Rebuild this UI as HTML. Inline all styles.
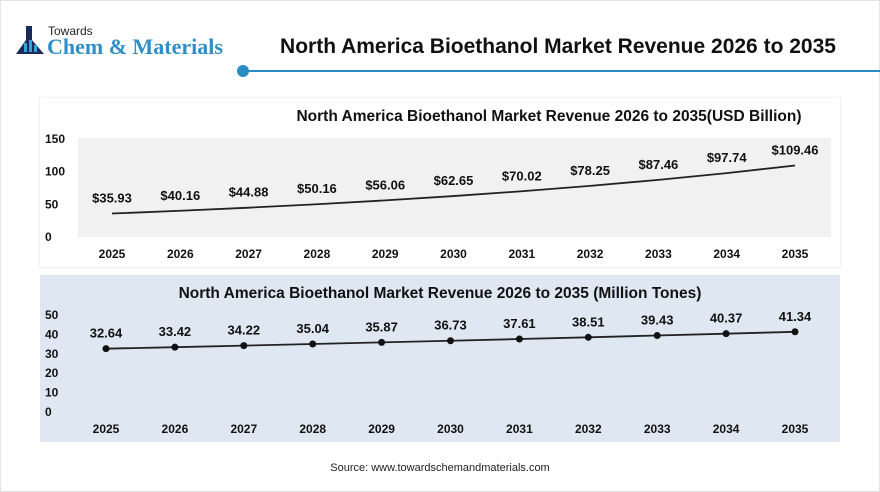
<!DOCTYPE html>
<html><head><meta charset="utf-8"><style>
body{margin:0;width:880px;height:492px;background:#fff;font-family:"Liberation Sans",sans-serif;overflow:hidden;position:relative}
.abs{position:absolute}
</style></head><body>
<div class="abs" style="left:0;top:0;width:878px;height:490px;border:1px solid #e4e4e4"></div>
<div class="abs" style="left:16px;top:24px">
  <svg class="abs" width="30" height="32" style="left:0;top:2px"><rect x="10" y="0" width="6" height="8" fill="#1b2a5a"/><path d="M10 8 L16 8 L16 14 L28 28 L0 28 L10 14Z" fill="#1b2a5a"/><rect x="8" y="17" width="3" height="9" fill="#3aa0d8"/><rect x="13" y="14" width="3" height="12" fill="#3aa0d8"/><rect x="18" y="19" width="3" height="7" fill="#3aa0d8"/></svg>
  <div class="abs" style="left:32px;top:0;font-size:12px;color:#222;white-space:nowrap">Towards</div>
  <div class="abs" style="left:31px;top:10px;font-family:'Liberation Serif',serif;font-size:22px;font-weight:bold;color:#2f8fc6;white-space:nowrap">Chem &amp; Materials</div>
</div>
<div class="abs" style="left:258px;top:35px;width:600px;text-align:center;font-size:21px;font-weight:bold;color:#111;white-space:nowrap">North America Bioethanol Market Revenue 2026 to 2035</div>
<div class="abs" style="left:243px;top:70px;width:637px;height:2px;background:#2a8cc5"></div>
<div class="abs" style="left:237px;top:65px;width:12px;height:12px;border-radius:50%;background:#2a8cc5"></div>
<div class="abs" style="left:40px;top:98px;width:800px;height:169px;background:#fff;box-shadow:0 0 3px #ddd"></div>
<div class="abs" style="left:40px;top:275px;width:800px;height:167px;background:#dfe7f2"></div>
<div class="abs" style="left:0;top:462px;width:880px;text-align:center;font-size:11px;color:#222">Source: www.towardschemandmaterials.com</div>
<svg id="chart" class="abs" width="880" height="492" style="left:0;top:0"></svg>
<script>
const years=["2025","2026","2027","2028","2029","2030","2031","2032","2033","2034","2035"];
const revenue=[35.93,40.16,44.88,50.16,56.06,62.65,70.02,78.25,87.46,97.74,109.46];
const revenueLabels=["$35.93","$40.16","$44.88","$50.16","$56.06","$62.65","$70.02","$78.25","$87.46","$97.74","$109.46"];
const revTicks=[0,50,100,150];
const volume=[32.64,33.42,34.22,35.04,35.87,36.73,37.61,38.51,39.43,40.37,41.34];
const volTicks=[0,10,20,30,40,50];
const NS="http://www.w3.org/2000/svg";
const svg=document.getElementById('chart');
function mk(t,a,txt){const e=document.createElementNS(NS,t);for(const k in a)e.setAttribute(k,a[k]);if(txt!=null)e.textContent=txt;svg.appendChild(e);return e;}
function draw(cfg){
  const x=i=>cfg.x0+(cfg.x1-cfg.x0)*i/(years.length-1);
  const y=v=>cfg.y0-(cfg.y0-cfg.yTop)*v/cfg.max;
  if(cfg.bg){const r=mk('rect',{x:78,y:cfg.yTop-1,width:753,height:cfg.y0-cfg.yTop+1,fill:cfg.bg});
    
    }
  const t=mk('text',{x:cfg.tx,y:cfg.ty,'text-anchor':'middle','font-size':15.5,'font-weight':'bold',fill:'#111'},cfg.title);
  
  
  cfg.ticks.forEach(v=>{const e=mk('text',{x:cfg.ax,y:y(v)+4,'font-size':12,'font-weight':'bold',fill:'#111'},String(v));
    
    });
  years.forEach((yr,i)=>{const e=mk('text',{x:x(i),y:cfg.xy,'text-anchor':'middle','font-size':12,'font-weight':'bold',fill:'#111'},yr);
    
    });
  const p=mk('polyline',{points:cfg.data.map((v,i)=>x(i)+','+y(v)).join(' '),fill:'none',stroke:'#222','stroke-width':1.8});
  
  
  cfg.data.forEach((v,i)=>{
    if(cfg.dots){const c=mk('circle',{cx:x(i),cy:y(v),r:3.5,fill:'#111'});
      
      }
    const l=mk('text',{x:x(i),y:y(v)-11,'text-anchor':'middle','font-size':13,'font-weight':'bold',fill:'#111'},cfg.labels[i]);
    
    
  });
}
draw({name:'revenue',data:revenue,labels:revenueLabels,ticks:revTicks,max:150,x0:112,x1:795,y0:237,yTop:139,ax:45,xy:258,bg:'#f1f1f1',dots:false,
  title:'North America Bioethanol Market Revenue 2026 to 2035(USD Billion)',tx:549,ty:121});
draw({name:'volume',data:volume,labels:volume.map(v=>v.toFixed(2)),ticks:volTicks,max:50,x0:106,x1:795,y0:412,yTop:315,ax:45,xy:433,bg:null,dots:true,
  title:'North America Bioethanol Market Revenue 2026 to 2035 (Million Tones)',tx:440,ty:298});
</script>
</body></html>
